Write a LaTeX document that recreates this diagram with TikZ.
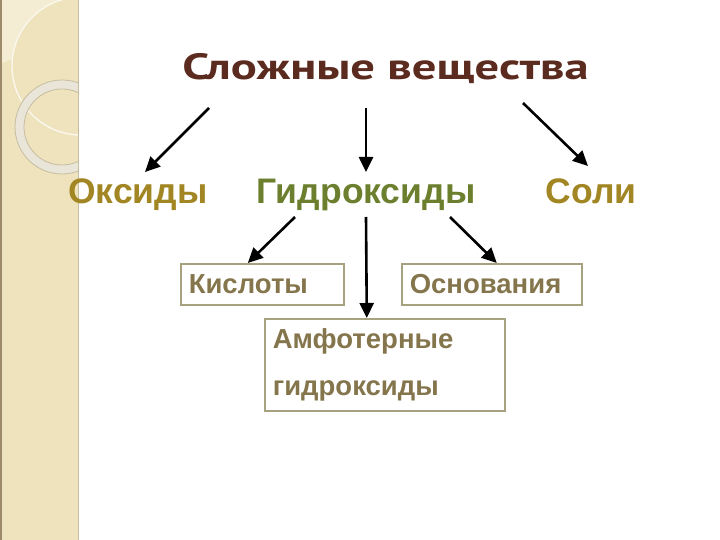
\documentclass[tikz,border=0pt]{standalone}
\usepackage{fontspec}
\setmainfont{Liberation Sans}
\newfontfamily\headfont[FakeStretch=1.33]{PT Sans}
\usetikzlibrary{arrows.meta,calc}
\definecolor{stripfill}{HTML}{EFE3BE}
\definecolor{stripglow}{HTML}{F4ECD3}
\definecolor{stripedge}{HTML}{9C8A6A}
\definecolor{ringfill}{HTML}{E9E5D8}
\definecolor{ringedge}{HTML}{C6BC9F}
\definecolor{headbrown}{HTML}{5C2B1F}
\definecolor{kindgold}{HTML}{A18623}
\definecolor{kindgreen}{HTML}{6C7F2E}
\definecolor{boxtext}{HTML}{84754C}
\definecolor{boxline}{HTML}{A6A27F}
\tikzset{>={Triangle[length=15pt,width=14pt]}}
\tikzset{
  arr/.style={->,line width=2.6pt},
  kind/.style={inner sep=0pt,anchor=base,font=\fontsize{35.5}{40}\selectfont\bfseries},
  box/.style={draw=boxline,line width=1.6pt,text=boxtext,anchor=north west,
    align=left,inner xsep=8pt,font=\fontsize{27.5}{47}\selectfont\bfseries},
}

\begin{document}
\begin{tikzpicture}[x=1pt,y=-1pt]
\useasboundingbox (0,0) rectangle (720,540);
% left strip
\fill[stripfill] (0,0) rectangle (79,540);
\begin{scope}
  \clip (0,0) rectangle (79,540);
  \begin{scope}
    \clip (-40,-60) circle (130);
    \fill[stripglow,even odd rule] (-50,-80) rectangle (90,90) (81,66) circle (69);
  \end{scope}
  \draw[white!70!stripfill,line width=1.4pt] (81,66) circle (69);
  \fill[ringfill,even odd rule] (62,127) circle (47) (62,127) circle (38);
  \draw[ringedge,line width=0.8pt] (62,127) circle (47) (62,127) circle (38);
\end{scope}
\draw[stripedge,line width=1.5pt] (0.75,0) -- (0.75,540);
\draw[ringedge,line width=1.2pt] (78.4,0) -- (78.4,540);

\node[inner sep=0pt,anchor=base,text=headbrown,
  font=\headfont\bfseries\fontsize{36.5}{40}\selectfont] (sv) at (385.5,80) {Сложные вещества};

\node[kind,text=kindgold] (ox) at (138,204) {Оксиды};
\node[kind,text=kindgreen] (gid) at (366,204) {Гидроксиды};
\node[kind,text=kindgold] (sol) at (591,204) {Соли};

\node[box,minimum width=163pt,minimum height=41pt,text width=147pt] (kis) at (180,263) {Кислоты};
\node[box,minimum width=180pt,minimum height=41pt,text width=164pt] (osn) at (401,263) {Основания};
\node[box,minimum width=240pt,minimum height=92pt,text width=224pt] (amf) at (264,318) {Амфотерные\\гидроксиды};

\draw[arr] ([shift={(-176.5pt,-28pt)}]sv.base) -- ([shift={(7pt,32pt)}]ox.base);
\draw[arr] ([shift={(-19.5pt,-28pt)}]sv.base) -- ([shift={(0pt,32pt)}]gid.base);
\draw[arr] ([shift={(137.5pt,-23pt)}]sv.base) -- ([shift={(-3pt,38pt)}]sol.base);

\draw[arr] ([shift={(-71pt,-13pt)}]gid.base) -- ([xshift=-14.5pt]kis.north);
\draw[arr] ([shift={(0pt,-13pt)}]gid.base) -- ([xshift=-18pt]amf.north);
\draw[arr] ([shift={(84pt,-13pt)}]gid.base) -- ([xshift=5pt]osn.north);
\end{tikzpicture}
\end{document}
